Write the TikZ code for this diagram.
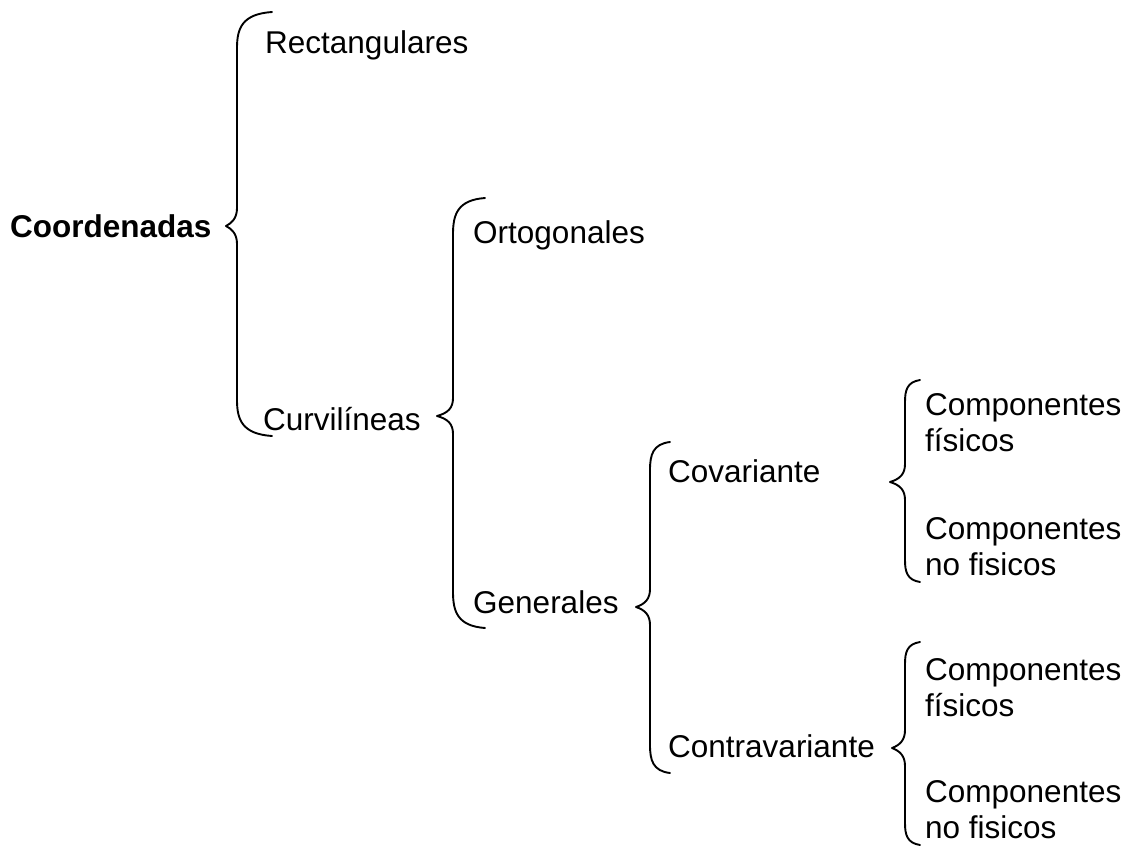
\documentclass[tikz,border=0pt]{standalone}
\usepackage{fontspec}
\setmainfont{Liberation Sans}
\begin{document}
\begin{tikzpicture}[x=1pt,y=-1pt,
  lbl/.style={anchor=base west,inner sep=0pt,font=\fontsize{31.5}{36}\selectfont,align=left},
  brc/.style={line width=1.9pt,line cap=round,line join=round}]
\useasboundingbox (0,0) rectangle (1127,846);
% xv, ytop, ybot, xtip, ytip, xend, curl radius
\newcommand\drawbrace[7]{%
  \draw[brc] (#6,#2) .. controls ({#1+0.15*(#6-#1)},{#2+2}) and (#1,{#2+0.45*#7}) .. (#1,{#2+#7})
    -- (#1,{#5-18}) .. controls (#1,{#5-8}) and ({#1-5},{#5-3}) .. (#4,#5)
    .. controls ({#1-5},{#5+3}) and (#1,{#5+8}) .. (#1,{#5+18})
    -- (#1,{#3-#7}) .. controls (#1,{#3-0.45*#7}) and ({#1+0.15*(#6-#1)},{#3-2}) .. (#6,#3);}
\node[lbl,font=\bfseries\fontsize{31.5}{36}\selectfont] (coord) at (10,237) {Coordenadas};
\node[lbl] (rect) at (265,53) {Rectangulares};
\node[lbl] (curv) at (263,430) {Curvilíneas};
\node[lbl] (orto) at (473,243) {Ortogonales};
\node[lbl] (gen) at (473,613) {Generales};
\node[lbl] (cov) at (668,482) {Covariante};
\node[lbl] (contra) at (668,757) {Contravariante};
\node[lbl] (c1) at (925,451) {Componentes\\físicos};
\node[lbl] (c2) at (925,575) {Componentes\\no fisicos};
\node[lbl] (c3) at (925,716) {Componentes\\físicos};
\node[lbl] (c4) at (925,838) {Componentes\\no fisicos};
\drawbrace{237}{12}{436}{226}{226}{272}{36}
\drawbrace{453}{198}{628}{437}{416}{485}{36}
\drawbrace{650}{442}{773}{636}{607}{670}{28}
\drawbrace{905}{380}{582}{890}{482}{920}{22}
\drawbrace{905}{642}{845}{892}{748}{920}{22}
\end{tikzpicture}
\end{document}
